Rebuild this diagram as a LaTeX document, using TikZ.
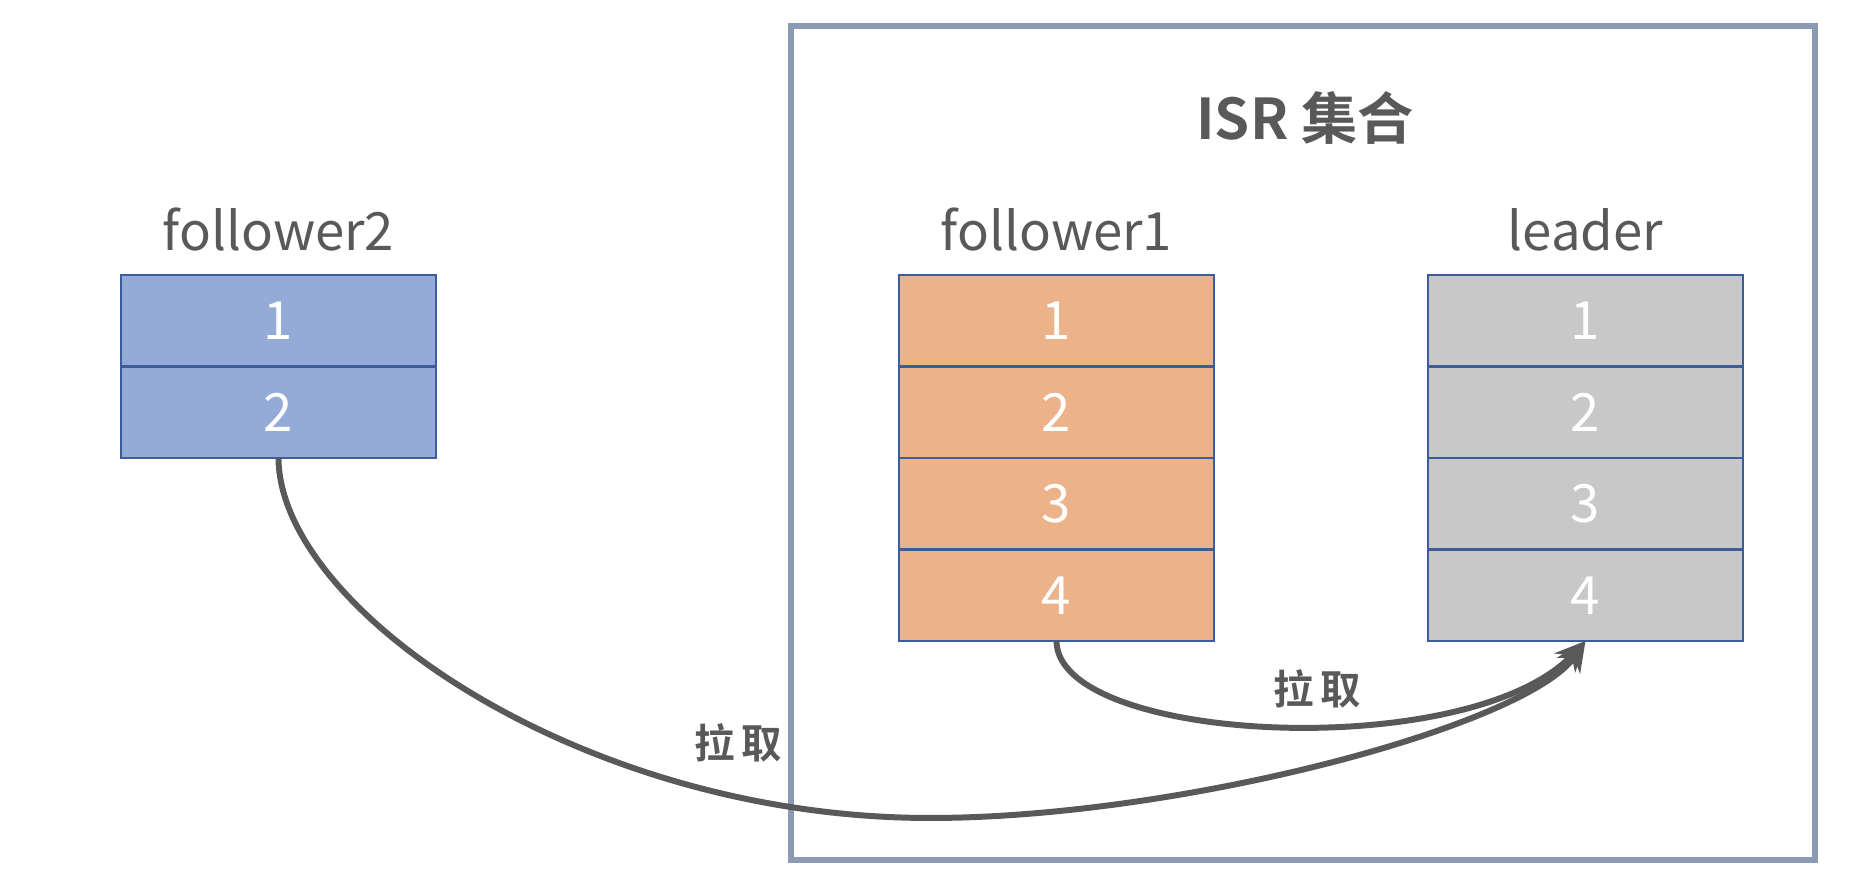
\documentclass[tikz,border=0pt]{standalone}
\usepackage{fontspec}
\setmainfont{Noto Sans CJK SC}[BoldFont={Noto Sans CJK SC Bold}]
\usetikzlibrary{arrows.meta,positioning}
\definecolor{isrgray}{HTML}{8C9BB3}
\definecolor{cellline}{HTML}{3D5C9C}
\definecolor{skyfill}{HTML}{94AAD7}
\definecolor{peach}{HTML}{ECB38A}
\definecolor{stone}{HTML}{C8C8C8}
\definecolor{ink}{HTML}{595959}

\begin{document}
\begin{tikzpicture}[
  cell/.style={draw=cellline, line width=0.8pt, minimum width=3.15cm, minimum height=0.915cm,
    inner sep=0pt, outer sep=0pt, text=white, font=\fontsize{15}{18}\selectfont},
  boxtitle/.style={text=ink, font=\fontsize{15}{18}\selectfont, anchor=base},
  pull/.style={-{Stealth[length=3mm,width=2.8mm]}, ink, line width=1.7pt},
  pulltag/.style={text=ink, font=\bfseries\fontsize{11.5}{14}\selectfont}
]
  \useasboundingbox (0,0) rectangle (18.52,8.84);
  \draw[isrgray, line width=1.8pt] (7.91,0.24) rectangle (18.15,8.58);
  \node[text=ink, font=\bfseries\fontsize{16}{19}\selectfont] (isr) at (13.05,7.66) {ISR 集合};

  % replica logs
  \foreach \i in {1,2} {
    \node[cell, fill=skyfill] (fa\i) at (2.785,{6.09-0.915*(\i-0.5)}) {\i};
  }
  \foreach \i in {1,...,4} {
    \node[cell, fill=peach] (fb\i) at (10.565,{6.09-0.915*(\i-0.5)}) {\i};
    \node[cell, fill=stone] (ld\i) at (15.855,{6.09-0.915*(\i-0.5)}) {\i};
  }
  \node[boxtitle] (fatag) at (2.785,6.33) {follower2};
  \node[boxtitle] (fbtag) at (10.565,6.33) {follower1};
  \node[boxtitle] (ldtag) at (15.855,6.33) {leader};

  % fetch arrows
  \coordinate (dip) at (9.30,0.66);
  \draw[pull] (fb4.south) .. controls (10.57,1.4) and (14.7,1.2) .. (ld4.south);
  \draw[pull] (fa2.south) .. controls (2.79,2.76) and (5.8,0.66) .. (dip)
    .. controls (11.8,0.66) and (15.27,1.58) .. (ld4.south);
  \node[pulltag] (pulla) at (13.17,1.95) {拉\,取};
  \node[pulltag] (pullb) at (7.38,1.41) {拉\,取};
\end{tikzpicture}
\end{document}
